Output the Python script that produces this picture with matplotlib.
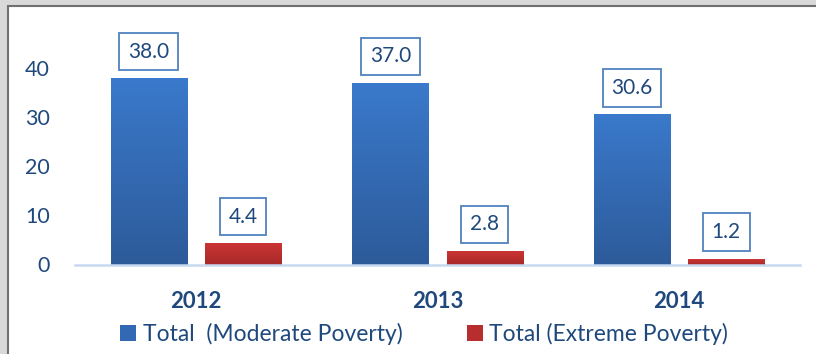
import numpy as np
import matplotlib.pyplot as plt
from matplotlib.patches import Rectangle
from matplotlib.colors import to_rgb

# Poverty rates (%) by year
years = ['2012', '2013', '2014']
moderate = [38.0, 37.0, 30.6]
extreme = [4.4, 2.8, 1.2]
series_names = ['Total  (Moderate Poverty)', 'Total (Extreme Poverty)']

plt.rcParams['font.family'] = ['Lato', 'DejaVu Sans']
navy = '#1f497d'

fig = plt.figure(figsize=(8.16, 3.54), dpi=100, facecolor='#d9d9d9')
# white panel with a thin dark frame on top/left
fig.patches.append(Rectangle((8 / 816, -0.01), 1.05, (354 - 6) / 354 + 0.01,
                             transform=fig.transFigure, facecolor='white',
                             edgecolor='#707070', linewidth=1.5, zorder=-1))

ax = fig.add_axes([75 / 816, 89.5 / 354, 725 / 816, 235.7 / 354])
ax.set_facecolor('none')

x = np.arange(len(years))
off = 0.195
w = 0.315


def gradient_bars(xs, vals, top, bottom):
    bars = ax.bar(xs, vals, width=w, color=bottom, zorder=2)
    grad = np.linspace(0, 1, 100).reshape(-1, 1)
    c1 = np.array(to_rgb(top))
    c2 = np.array(to_rgb(bottom))
    img = c1 + (c2 - c1) * grad[:, :, None]
    for b in bars:
        x0, h = b.get_x(), b.get_height()
        im = ax.imshow(img, extent=(x0, x0 + w, 0, h), aspect='auto',
                       origin='upper', zorder=3)
        im.set_clip_path(b)
    return bars


gradient_bars(x - off, moderate, '#3a79cb', '#2d5b9a')
gradient_bars(x + off, extreme, '#cc3434', '#a62929')

# boxed value labels
for xs, vals in ((x - off, moderate), (x + off, extreme)):
    for xi, v in zip(xs, vals):
        ax.annotate(f'{v:.1f}', (xi, v), xytext=(0, 19), textcoords='offset points',
                    ha='center', va='center', fontsize=15, color=navy, zorder=5,
                    annotation_clip=False,
                    bbox=dict(boxstyle='square,pad=0.42', facecolor='white',
                              edgecolor='#4f81bd', linewidth=1.3))

ax.set_xlim(-0.5, 2.5)
ax.set_ylim(0, 48)
ax.set_yticks([0, 10, 20, 30, 40])
ax.set_xticks(x)
ax.set_xticklabels(years, fontsize=16, fontweight='bold', color=navy)
ax.tick_params(axis='y', length=0, labelsize=15.5, labelcolor=navy, pad=18)
ax.tick_params(axis='x', length=0, pad=19)
for s in ('top', 'right', 'left'):
    ax.spines[s].set_visible(False)
ax.spines['bottom'].set_color('#c6d9f1')
ax.spines['bottom'].set_linewidth(1.8)
ax.spines['bottom'].set_zorder(4)

handles = [Rectangle((0, 0), 1, 1, facecolor='#3268b4'),
           Rectangle((0, 0), 1, 1, facecolor='#b82e2e')]
fig.legend(handles, series_names, loc='center', bbox_to_anchor=(424 / 816, 1 - 334 / 354),
           ncol=2, frameon=False, fontsize=16.5, labelcolor=navy,
           handlelength=0.7, handleheight=0.7, handletextpad=0.3, columnspacing=2.8)

fig.savefig('out.png', dpi=100, facecolor=fig.get_facecolor())
